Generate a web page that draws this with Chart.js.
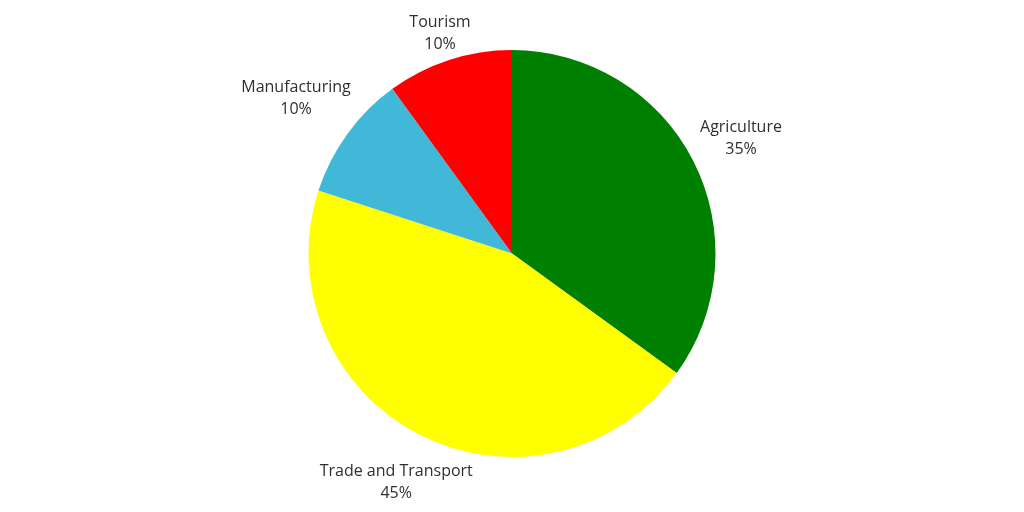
<!DOCTYPE html>
<html>
<head>
<meta charset="utf-8">
<script src="https://cdn.jsdelivr.net/npm/chart.js@4/dist/chart.umd.min.js"></script>
<style>
  html, body { margin: 0; padding: 0; background: #fff; }
  canvas { display: block; }
</style>
</head>
<body>
<canvas id="pie" width="1024" height="512"></canvas>
<script>
const sectors = ['Agriculture', 'Trade and Transport', 'Manufacturing', 'Tourism'];
const shares  = [35, 45, 10, 10];
const colors  = ['#008000', '#ffff00', '#42b8d8', '#ff0000'];

// distance of each label centre from the pie centre
const labelDist = [257, 255, 267, 233];

const outerLabels = {
  id: 'outerLabels',
  afterDraw(chart){
    const ctx = chart.ctx;
    const arcs = chart.getDatasetMeta(0).data;
    ctx.save();
    ctx.font = '16px "Open Sans", "Noto Sans", sans-serif';
    ctx.fillStyle = '#2f2f2f';
    ctx.textAlign = 'center';
    ctx.textBaseline = 'middle';
    arcs.forEach((arc, i) => {
      const mid = (arc.startAngle + arc.endAngle) / 2;
      const x = arc.x + Math.cos(mid) * labelDist[i];
      const y = arc.y + Math.sin(mid) * labelDist[i] + 2;
      ctx.fillText(sectors[i], x, y - 11);
      ctx.fillText(shares[i] + '%', x, y + 11);
    });
    ctx.restore();
  }
};

new Chart(document.getElementById('pie'), {
  type: 'pie',
  data: {
    labels: sectors,
    datasets: [{ data: shares, backgroundColor: colors, borderWidth: 0 }]
  },
  options: {
    responsive: false,
    animation: false,
    layout: { padding: { top: 50, bottom: 55, left: 0, right: 0 } },
    plugins: { legend: { display: false }, tooltip: { enabled: false } }
  },
  plugins: [outerLabels]
});
</script>
</body>
</html>
